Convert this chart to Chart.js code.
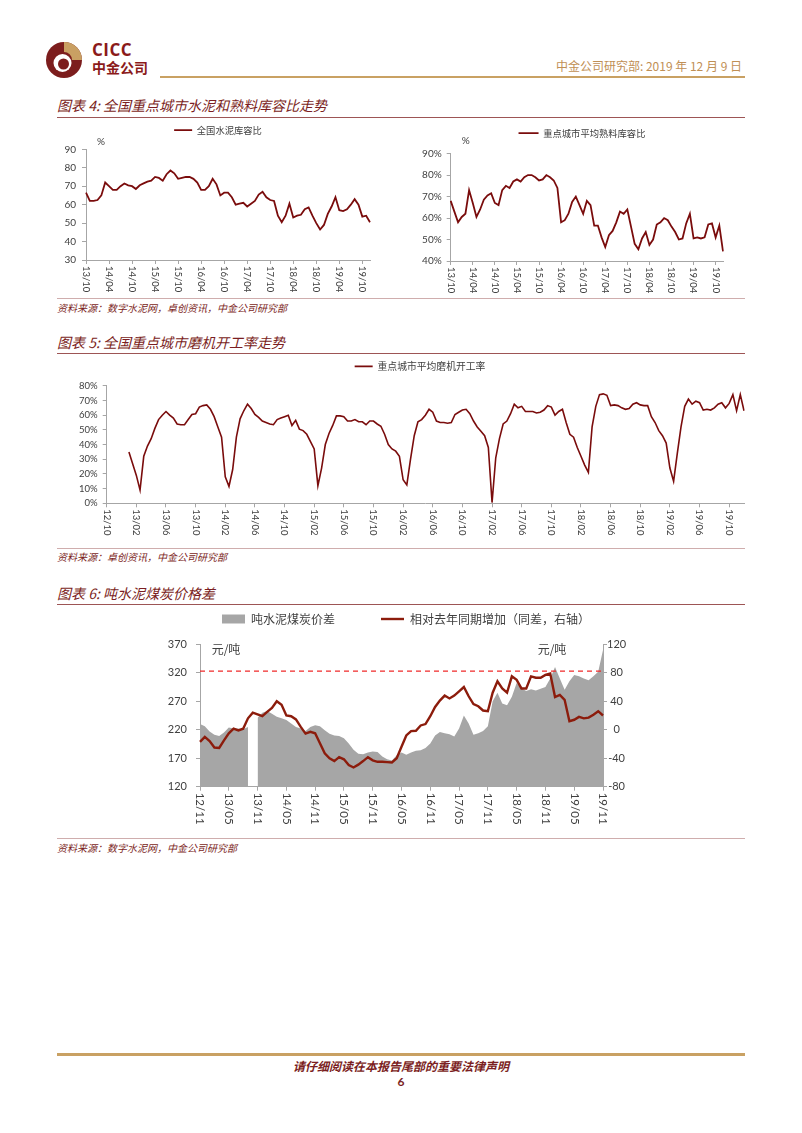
<!DOCTYPE html>
<html lang="zh-CN">
<head>
<meta charset="utf-8">
<title>中金公司研究部 - 水泥库容比、磨机开工率与煤炭价差</title>
<script src="https://cdn.jsdelivr.net/npm/chart.js@4.4.1/dist/chart.umd.min.js"></script>
<style>
  body { margin: 0; background: #fff; }
  #page { position: relative; width: 802px; height: 1133px; overflow: hidden; font-family: 'Noto Sans CJK SC', sans-serif; }
  canvas { position: absolute; }
  .title { position: absolute; left: 57px; font-size: 14px; line-height: 18px; font-style: italic; color: #7b1e22; white-space: nowrap; }
  .rule { position: absolute; left: 57px; width: 688px; height: 1px; background: #9d5555; }
  .src-rule { position: absolute; left: 57px; width: 688px; height: 1px; background: #cfadad; }
  .source { position: absolute; left: 57px; font-size: 10px; line-height: 14px; font-style: italic; color: #7b1e22; white-space: nowrap; }
</style>
</head>
<body>
<div id="page">
  <svg style="position:absolute;left:45px;top:39px" width="38" height="42" viewBox="0 0 38 42">
    <circle cx="19" cy="21" r="18" fill="#7c1d1d"/>
    <path d="M19 3 A18 18 0 0 1 37 21 L27 21 A8 8 0 0 0 19 13 Z" fill="#c9a063"/>
    <circle cx="17.5" cy="24" r="9" fill="#fff"/>
    <circle cx="18.5" cy="25" r="5.5" fill="#7c1d1d"/>
  </svg>
  <div style="position:absolute;left:92px;top:38px;font:bold 17px 'Open Sans',sans-serif;color:#8b1a1a;letter-spacing:0.5px">CICC</div>
  <div style="position:absolute;left:92px;top:57px;font:bold 14px 'Noto Sans CJK SC';color:#8b1a1a;line-height:20px">中金公司</div>
  <div style="position:absolute;right:60px;top:58px;font-size:12px;line-height:16px;color:#bf8f55">中金公司研究部: 2019 年 12 月 9 日</div>
  <div style="position:absolute;left:160px;top:76px;width:585px;height:2px;background:#c9a163"></div>

  <div class="title" style="top:96px">图表 4: 全国重点城市水泥和熟料库容比走势</div>
  <div class="rule" style="top:117px"></div>
  <canvas id="c4a" width="322" height="178" style="left:57px;top:119px"></canvas>
  <canvas id="c4b" width="324" height="178" style="left:420px;top:119px"></canvas>
  <div class="src-rule" style="top:298px"></div>
  <div class="source" style="top:301px">资料来源：数字水泥网，卓创资讯，中金公司研究部</div>

  <div class="title" style="top:333px">图表 5: 全国重点城市磨机开工率走势</div>
  <div class="rule" style="top:353px"></div>
  <canvas id="c5" width="726" height="192" style="left:57px;top:355px"></canvas>
  <div class="src-rule" style="top:548px"></div>
  <div class="source" style="top:550px">资料来源：卓创资讯，中金公司研究部</div>

  <div class="title" style="top:584px">图表 6: 吨水泥煤炭价格差</div>
  <div class="rule" style="top:604px"></div>
  <canvas id="c6" width="492" height="231" style="left:160px;top:606px"></canvas>
  <div class="src-rule" style="top:838px"></div>
  <div class="source" style="top:841px">资料来源：数字水泥网，中金公司研究部</div>

  <div style="position:absolute;left:57px;top:1053px;width:688px;height:3px;background:#c9a163"></div>
  <div style="position:absolute;left:0;width:802px;top:1058px;text-align:center;font-size:12px;line-height:16px;font-style:italic;font-weight:bold;color:#7b1e22">请仔细阅读在本报告尾部的重要法律声明</div>
  <div style="position:absolute;left:0;width:802px;top:1074px;text-align:center;font:bold 12px Lato,sans-serif;line-height:16px;color:#7b1e22">6</div>
</div>

<script>
// month labels like '13/10'
function monthLabels(year, month, count) {
  const out = [];
  let y = year, m = month;
  for (let i = 0; i < count; i++) {
    out.push(String(y % 100).padStart(2, '0') + '/' + String(m).padStart(2, '0'));
    m++;
    if (m > 12) { m = 1; y++; }
  }
  return out;
}
// two points per month, second half marked with a trailing '*'
function halfMonthLabels(year, month, count) {
  const out = [];
  monthLabels(year, month, Math.ceil(count / 2)).forEach(l => { out.push(l); out.push(l + '*'); });
  return out.slice(0, count);
}

// ---- 图表4 库容比 (月度, 13/10 - 19/12) ----
const ratioLabels = monthLabels(2013, 10, 75);
const ratioTicks = ['13/10', '14/04', '14/10', '15/04', '15/10', '16/04', '16/10', '17/04', '17/10', '18/04', '18/10', '19/04', '19/10'];
const cementRatio = [
  66.5, 62, 62,
  62.5, 65, 72, 70, 68, 68, 70, 71.5, 70.5, 70, 68.5, 70.5,
  71.5, 72.5, 73, 75, 74.5, 73, 76.5, 78.5, 77, 74, 74.5, 75,
  75, 74, 72, 68, 68, 70, 74, 71, 65, 66.5, 66.5, 64,
  60, 60.5, 61, 59, 60.5, 62, 65.5, 67, 64, 62.5, 62, 54,
  50.5, 54, 60.5, 53, 54, 54.5, 57.5, 58.5, 54, 50, 46.5, 49,
  55, 59, 64, 57, 56.5, 57.5, 60, 63, 60, 53.5, 54, 50.5
];
const clinkerRatio = [
  68, 63, 58,
  60.5, 62, 73, 67, 60.5, 64, 68.5, 70.5, 71.5, 67, 66, 73,
  75, 74, 77, 78, 77, 79, 80, 80, 79, 77.5, 78, 80,
  79, 77.5, 74, 58, 59, 62, 67.5, 70, 66, 62, 68, 66,
  56.5, 56.5, 51, 46.5, 52, 54, 58, 63, 62, 64, 56, 48,
  45.5, 50.5, 53.5, 47.5, 50, 57, 58, 60, 59, 56, 53.5, 50,
  50.5, 57.5, 62, 50.5, 51, 50.5, 51, 57, 57.5, 51, 56.5, 44.5
];

// ---- 图表5 磨机开工率 (半月, 12/10 - 19/12) ----
const millLabels = halfMonthLabels(2012, 10, 173);
const millTicks = ['12/10', '13/02', '13/06', '13/10', '14/02', '14/06', '14/10', '15/02', '15/06', '15/10', '16/02',
  '16/06', '16/10', '17/02', '17/06', '17/10', '18/02', '18/06', '18/10', '19/02', '19/06', '19/10'];
const millRate = [
  null, null, null, null, null, null,
  35, 27, 19, 9, 32, 39, 44, 51, 57, 60, 62.5, 60, 58, 54, 53.5, 53.5, 57, 60.5, 61, 65.5, 66.5, 67, 64, 59,
  52, 45, 18, 11.5, 23, 45, 57.5, 63, 67.5, 64.5, 60.5, 58.5, 56, 55, 54, 53.5, 57, 58, 59, 60, 53, 56.5, 50.5, 49.5,
  47, 42, 37, 12, 24, 40, 47.5, 53, 59.5, 59.5, 59, 56, 56, 57, 55.5, 55.5, 53.5, 56, 56, 54, 52.5, 47, 40, 37,
  35.5, 32, 16, 12.5, 30, 46, 55.5, 57, 60, 64, 62, 56, 55, 55, 54.5, 55, 60.5, 62, 63.5, 64, 61, 56, 52, 49,
  46, 38, 0.5, 31, 44, 54, 56, 61, 67.5, 65, 66, 62.5, 62.5, 62.5, 61.5, 62, 63.5, 66.5, 65.5, 60, 62.5, 64, 55, 47,
  45, 38, 32, 26, 21, 52, 66, 74, 74.5, 73.5, 66.5, 67, 66.5, 65, 64, 64.5, 67.5, 68.5, 67, 66.5, 66.5, 59, 55, 49.5,
  46, 41, 24, 15, 34, 52, 66, 71, 67.5, 69.5, 68.5, 63.5, 64, 63.5, 65, 67.5, 68.5, 65, 68, 74, 63, 74, 63
];

// ---- 图表6 吨水泥煤炭价差 (月度, 12/11 - 19/11) ----
const spreadLabels = monthLabels(2012, 11, 85);
const spreadTicks = ['12/11', '13/05', '13/11', '14/05', '14/11', '15/05', '15/11', '16/05', '16/11', '17/05', '17/11', '18/05', '18/11', '19/05', '19/11'];
const coalSpread = [
  230, 226, 217, 211, 209, 215, 224, 222, 222, 221, 225, null,
  241, 250, 253, 248, 243, 240, 237, 231, 225, 222, 218, 225,
  228, 226, 219, 213, 210, 209, 205, 196, 185, 178, 177, 180,
  182, 181, 173, 168, 166, 175, 180, 176, 180, 183, 184, 188,
  196, 210, 216, 214, 212, 208, 222, 245, 231, 211, 214, 218,
  226, 270, 285, 266, 263, 278, 302, 293, 288, 291, 289, 292,
  295, 310, 330, 310, 290, 305, 316, 314, 310, 307, 314, 322,
  360
];
const spreadYoY = [
  -17, -10, -16, -25, -25.5, -15, -5, 1.5, -1, 1.5, 16, 24,
  21.5, 19, 25, 30.5, 40, 35, 20, 19, 14.5, 4, -5.5, -3,
  -5, -19, -33, -40, -44, -38.5, -41.5, -49.5, -53, -49, -44, -38.5,
  -43, -45, -45, -45.5, -46, -40, -24, -8, -2, -1.5, 6, 8,
  19, 32, 41, 48, 44, 48, 54, 60, 47, 36, 33, 27,
  26, 52, 68, 58, 52, 75, 70, 58, 58, 75, 73, 73,
  77, 79, 46, 49, 42, 12, 14, 18, 16, 17, 21, 26,
  20
];
const spreadRefLine = [{ x: '12/11', y: 323 }, { x: '19/11', y: 323 }];

const CJK = "'Noto Sans CJK SC', sans-serif";
const NUM = "Lato, 'Liberation Sans', sans-serif";
const RED = '#7a0c0c';
const AXIS = '#a6a6a6';
const TEXT = '#404040';

// x labels drawn turned clockwise, like the source charts
const xLabels = {
  id: 'xLabels',
  afterDraw(chart, args, opts) {
    const scale = chart.scales.x;
    const ctx = chart.ctx;
    ctx.save();
    ctx.font = opts.size + 'px ' + NUM;
    ctx.fillStyle = TEXT;
    ctx.textAlign = 'left';
    ctx.textBaseline = 'middle';
    opts.labels.forEach(lab => {
      const x = scale.getPixelForValue(chart.data.labels.indexOf(lab));
      ctx.save();
      ctx.translate(x, scale.top + opts.gap);
      ctx.rotate(Math.PI / 2);
      ctx.fillText(lab, 0, 0);
      ctx.restore();
    });
    ctx.restore();
  }
};

// unit captions ('%', '元/吨') placed from the chart area
const units = {
  id: 'units',
  afterDraw(chart, args, opts) {
    const a = chart.chartArea;
    const ctx = chart.ctx;
    ctx.save();
    ctx.fillStyle = TEXT;
    ctx.textAlign = 'center';
    ctx.textBaseline = 'middle';
    opts.items.forEach(it => {
      ctx.font = it.font;
      ctx.fillText(it.text, (it.side === 'right' ? a.right : a.left) + it.dx, a.top + it.dy);
    });
    ctx.restore();
  }
};

function xAxis(ticks, height) {
  return {
    type: 'category',
    offset: false,
    grid: { display: true, drawOnChartArea: false, drawTicks: true, tickLength: 4, color: AXIS },
    border: { display: true, color: AXIS },
    ticks: { display: false, autoSkip: false },
    afterBuildTicks: (s) => { s.ticks = s.ticks.filter(t => ticks.includes(s.chart.data.labels[t.value])); },
    afterFit: (s) => { s.height = height; }
  };
}

function yAxis(o) {
  return {
    position: o.position || 'left',
    min: o.min, max: o.max,
    grid: { display: true, drawOnChartArea: false, drawTicks: true, tickLength: 4, color: AXIS },
    border: { display: true, color: AXIS },
    ticks: {
      stepSize: o.step, padding: o.pad, color: TEXT,
      crossAlign: o.crossAlign || 'near',
      font: { family: NUM, size: o.size },
      callback: o.fmt || (v => v)
    },
    afterFit: (s) => { s.width = o.width; }
  };
}

// empty right-hand strip so the legend centres where the original has it
function gutter(width) {
  return {
    type: 'linear', position: 'right', display: true,
    grid: { display: false }, border: { display: false }, ticks: { display: false },
    afterFit: (s) => { s.width = width; }
  };
}

function legendOpts(size, pad, w) {
  return {
    display: true, position: 'top',
    labels: { usePointStyle: true, pointStyleWidth: w, boxHeight: 9, padding: pad, color: TEXT, font: { family: CJK, size: size } }
  };
}

// empty title used only as a gap between legend and plot
function spacer(bottom) {
  return { display: true, text: '', weight: 500, font: { size: 1 }, padding: { top: 0, bottom: bottom } };
}

const pct = v => v + '%';

new Chart(document.getElementById('c4a'), {
  type: 'line',
  data: {
    labels: ratioLabels,
    datasets: [{ label: '全国水泥库容比', data: cementRatio, borderColor: RED, backgroundColor: RED, borderWidth: 1.8, pointRadius: 0, pointStyle: 'line' }]
  },
  options: {
    responsive: false, animation: false,
    layout: { padding: 0 },
    scales: { x: xAxis(ratioTicks, 37), y: yAxis({ min: 30, max: 90, step: 10, width: 29, size: 10, pad: 6 }), pad: gutter(9) },
    plugins: {
      legend: legendOpts(9.3, 6.5, 18),
      title: spacer(3.3),
      tooltip: { enabled: false },
      xLabels: { labels: ratioTicks, size: 9.5, gap: 6 },
      units: { items: [{ text: '%', side: 'left', dx: 15, dy: -8, font: '10px ' + NUM }] }
    }
  },
  plugins: [xLabels, units]
});

new Chart(document.getElementById('c4b'), {
  type: 'line',
  data: {
    labels: ratioLabels,
    datasets: [{ label: '重点城市平均熟料库容比', data: clinkerRatio, borderColor: RED, backgroundColor: RED, borderWidth: 1.8, pointRadius: 0, pointStyle: 'line' }]
  },
  options: {
    responsive: false, animation: false,
    layout: { padding: 0 },
    scales: { x: xAxis(ratioTicks, 36), y: yAxis({ min: 40, max: 90, step: 10, width: 30.7, size: 10, pad: 5, fmt: pct }), pad: gutter(21) },
    plugins: {
      legend: legendOpts(9.3, 9.5, 20),
      title: spacer(4.6),
      tooltip: { enabled: false },
      xLabels: { labels: ratioTicks, size: 9.5, gap: 6 },
      units: { items: [{ text: '%', side: 'left', dx: 15, dy: -13, font: '10px ' + NUM }] }
    }
  },
  plugins: [xLabels, units]
});

new Chart(document.getElementById('c5'), {
  type: 'line',
  data: {
    labels: millLabels,
    datasets: [{ label: '重点城市平均磨机开工率', data: millRate, borderColor: RED, backgroundColor: RED, borderWidth: 1.6, pointRadius: 0, pointStyle: 'line' }]
  },
  options: {
    responsive: false, animation: false,
    layout: { padding: 0 },
    scales: { x: xAxis(millTicks, 43.7), y: yAxis({ min: 0, max: 80, step: 10, width: 49.7, size: 9.5, pad: 5, fmt: pct }), pad: gutter(39) },
    plugins: {
      legend: legendOpts(9.8, 6.5, 18),
      title: spacer(3.3),
      tooltip: { enabled: false },
      xLabels: { labels: millTicks, size: 9.5, gap: 6 }
    }
  },
  plugins: [xLabels]
});

new Chart(document.getElementById('c6'), {
  type: 'line',
  data: {
    labels: spreadLabels,
    datasets: [
      { label: '吨水泥煤炭价差', data: coalSpread, yAxisID: 'y', fill: 'start', backgroundColor: '#a6a6a6', borderColor: '#a6a6a6', borderWidth: 0, pointRadius: 0, pointStyle: 'rect', order: 3 },
      { label: '相对去年同期增加（同差，右轴）', data: spreadYoY, yAxisID: 'y2', borderColor: '#8c1c0c', backgroundColor: '#8c1c0c', borderWidth: 2.4, pointRadius: 0, pointStyle: 'line', order: 2 },
      { label: '参考线', data: spreadRefLine, yAxisID: 'y', borderColor: '#f02a2a', borderDash: [5, 4], borderWidth: 1.3, pointRadius: 0, order: 1 }
    ]
  },
  options: {
    responsive: false, animation: false,
    layout: { padding: { left: 0, right: 0, top: -39, bottom: 0 } },
    scales: {
      x: xAxis(spreadTicks, 50.3),
      y: yAxis({ min: 120, max: 370, step: 50, width: 40, size: 11, pad: 9 }),
      y2: yAxis({ position: 'right', min: -80, max: 120, step: 40, width: 49, size: 11, pad: 0, crossAlign: 'center' })
    },
    plugins: {
      legend: {
        display: true, position: 'top',
        labels: {
          usePointStyle: true, pointStyleWidth: 23, boxHeight: 9, padding: 46, color: TEXT,
          font: { family: CJK, size: 12 },
          filter: (item) => item.datasetIndex < 2,
          sort: (a, b) => a.datasetIndex - b.datasetIndex
        }
      },
      title: spacer(8.1),
      tooltip: { enabled: false },
      xLabels: { labels: spreadTicks, size: 11.5, gap: 6 },
      units: { items: [
        { text: '元/吨', side: 'left', dx: 26, dy: 5, font: '12px ' + CJK },
        { text: '元/吨', side: 'right', dx: -51, dy: 5, font: '12px ' + CJK }
      ] }
    }
  },
  plugins: [xLabels, units]
});
</script>
</body>
</html>
